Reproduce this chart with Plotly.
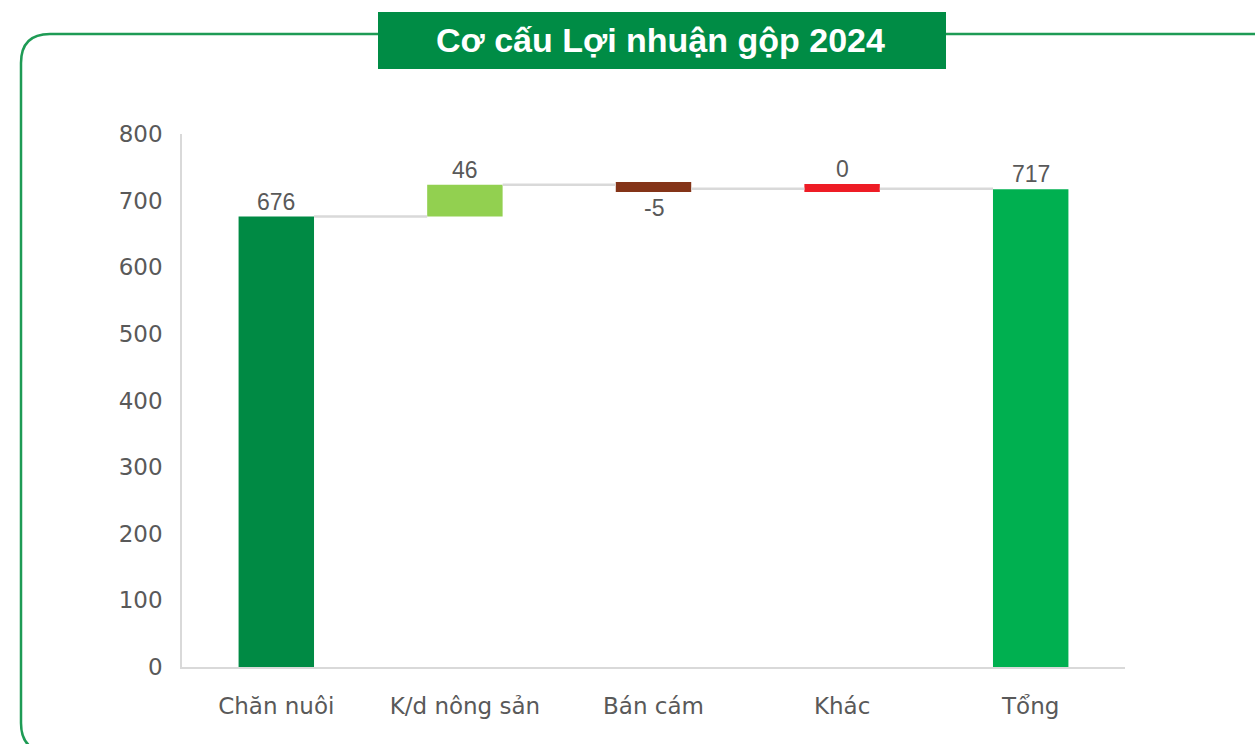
import plotly.graph_objects as go

# ---- data ----
categories = ["Chăn nuôi", "K/d nông sản", "Bán cám", "Khác", "Tổng"]
label_values = [676, 46, -5, 0, 717]
bar_low = [0, 676, 713, 713, 0]
bar_high = [676, 724, 728, 725, 717]
connector_levels = [676, 724, 718, 718]
bar_colors = ["#008A44", "#92D050", "#843418", "#EE1C25", "#00B050"]
y_ticks = [0, 100, 200, 300, 400, 500, 600, 700, 800]
title_text = "Cơ cấu Lợi nhuận gộp 2024"

W, H = 1255, 744
L, R, T, B = 182, 130, 134, 77
PW, PH = W - L - R, H - T - B


def px(x):
    return (x - L) / PW


def py(y):
    return (H - B - y) / PH


x_idx = list(range(len(categories)))
bar_w = 0.4

fig = go.Figure()
fig.add_trace(go.Bar(
    x=x_idx,
    y=[h - l for h, l in zip(bar_high, bar_low)],
    base=bar_low,
    width=bar_w,
    marker=dict(color=bar_colors, line=dict(width=0)),
    hoverinfo="skip",
    showlegend=False,
))

# connectors
cx, cy = [], []
for i, lvl in enumerate(connector_levels):
    cx += [i + bar_w / 2, i + 1 - bar_w / 2, None]
    cy += [lvl, lvl, None]
fig.add_trace(go.Scatter(x=cx, y=cy, mode="lines",
                         line=dict(color="#D9D9D9", width=2.5),
                         hoverinfo="skip", showlegend=False))

label_font = dict(family="Liberation Sans Narrow, Arial Narrow, Arial", size=23, color="#595959")
annotations = []
for i, v in enumerate(label_values):
    if v < 0:
        annotations.append(dict(x=i, y=bar_low[i], xref="x", yref="y", text=str(v),
                                showarrow=False, yanchor="top", yshift=-1, font=label_font))
    else:
        annotations.append(dict(x=i, y=bar_high[i], xref="x", yref="y", text=str(v),
                                showarrow=False, yanchor="bottom", yshift=0, font=label_font))

# title text
annotations.append(dict(x=px(660), y=py(40), xref="paper", yref="paper",
                        text="<b>" + title_text + "</b>", showarrow=False,
                        xanchor="center", yanchor="middle",
                        font=dict(family="Liberation Sans, Arial", size=34, color="white")))

frame_col = "#1E9B55"
r = 29
top_y, left_x, bot_y = 34, 21, 752
frame_path = (
    f"M {px(W + 5)},{py(top_y)} L {px(left_x + r)},{py(top_y)} "
    f"Q {px(left_x)},{py(top_y)} {px(left_x)},{py(top_y + r)} "
    f"L {px(left_x)},{py(bot_y - r)} "
    f"Q {px(left_x)},{py(bot_y)} {px(left_x + r)},{py(bot_y)} "
    f"L {px(W + 5)},{py(bot_y)}"
)
shapes = [
    dict(type="path", xref="paper", yref="paper", path=frame_path,
         line=dict(color=frame_col, width=2.5), layer="below"),
    dict(type="rect", xref="paper", yref="paper",
         x0=px(378), x1=px(946), y0=py(69), y1=py(12),
         fillcolor="#008C45", line=dict(width=0), layer="above"),
]

axis_font = dict(family="Century Gothic, DejaVu Sans, sans-serif", size=23, color="#595959")

fig.update_layout(
    width=W, height=H,
    margin=dict(l=L, r=R, t=T, b=B),
    paper_bgcolor="white", plot_bgcolor="white",
    bargap=0.6,
    annotations=annotations,
    shapes=shapes,
    xaxis=dict(range=[-0.5, len(categories) - 0.5], tickvals=x_idx, ticktext=categories,
               showgrid=False, zeroline=False, showline=True, linecolor="#D9D9D9",
               linewidth=2, ticks="", ticklabelstandoff=17, tickfont=axis_font),
    yaxis=dict(range=[0, 800], tickvals=y_ticks, showgrid=False, zeroline=False,
               showline=True, linecolor="#D9D9D9", linewidth=1.5, ticks="",
               ticklabelstandoff=13, tickfont=dict(axis_font, size=23)),
)

fig.write_html("out.html", config={"displayModeBar": False},
               post_script="document.body.style.margin='0';document.body.style.overflow='hidden';")
